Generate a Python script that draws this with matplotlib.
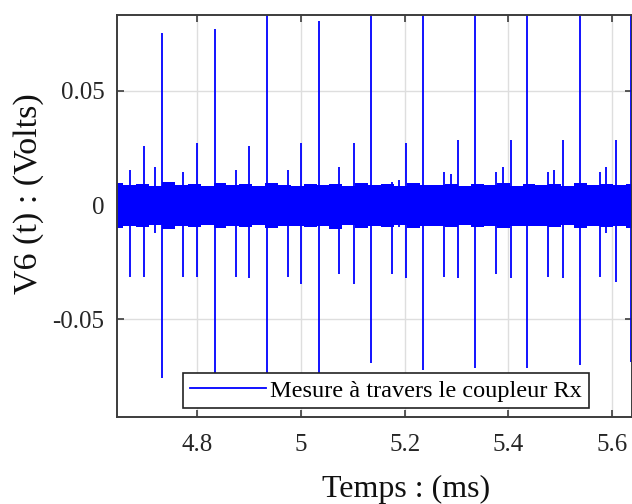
import matplotlib
matplotlib.use("Agg")
import matplotlib.pyplot as plt
import numpy as np

plt.rcParams['font.family'] = ['Liberation Serif', 'DejaVu Serif']

# big spikes (every ~0.1 ms)
big_t = [4.7324, 4.834, 4.9346, 5.0355, 5.1353, 5.2351, 5.3367, 5.4365, 5.5375, 5.637]
big_hi = [0.0751, 0.0771, 0.090, 0.0804, 0.090, 0.090, 0.090, 0.090, 0.0855, 0.090]
big_lo = [-0.0757, -0.080, -0.080, -0.080, -0.0691, -0.0722, -0.0713, -0.0713, -0.0700, -0.0687]

# medium spikes
mid_t = [4.6977, 4.7988, 4.8998, 5.0008, 5.1019, 5.2023, 5.3027, 5.4056, 5.5054, 5.6083]
mid_hi = [0.0259, 0.0273, 0.0259, 0.0273, 0.0273, 0.0273, 0.0284, 0.0284, 0.0284, 0.0284]
mid_lo = [-0.0314, -0.0314, -0.0319, -0.0346, -0.0346, -0.0319, -0.0319, -0.0319, -0.0319, -0.0336]

# small spikes
small_t = [4.6706, 4.7723, 4.874, 4.9743, 5.0739, 5.1749, 5.2752, 5.3761, 5.4770, 5.5766]
small_hi = [0.0153, 0.0144, 0.0153, 0.0153, 0.0165, 0.0100, 0.0144, 0.0144, 0.0144, 0.0144]
small_lo = [-0.0314, -0.0314, -0.0314, -0.0314, -0.0302, -0.0302, -0.0314, -0.0302, -0.0314, -0.0314]

# little bumps just above the noise
bump_t = [4.7180, 5.1896, 5.2887, 5.3890, 5.4874, 5.5883]
bump_hi = [0.0165, 0.0109, 0.0136, 0.0166, 0.0153, 0.0166]
bump_lo = [-0.0123, -0.0095, -0.0095, -0.0100, -0.0095, -0.0123]

# noise band envelope
noise_t = np.linspace(4.645, 5.6386, 41)
noise_hi = [0.0098, 0.0086, 0.0094, 0.0082, 0.0099, 0.0088, 0.0092, 0.0084, 0.0096, 0.0087,
            0.0090, 0.0083, 0.0095, 0.0089, 0.0085, 0.0093, 0.0087, 0.0091, 0.0084, 0.0097,
            0.0088, 0.0092, 0.0083, 0.0095, 0.0089, 0.0086, 0.0094, 0.0082, 0.0091, 0.0087,
            0.0096, 0.0085, 0.0090, 0.0088, 0.0093, 0.0084, 0.0097, 0.0086, 0.0092, 0.0089, 0.0094]
noise_lo = [-0.0102, -0.0090, -0.0098, -0.0087, -0.0104, -0.0092, -0.0096, -0.0089, -0.0101, -0.0091,
            -0.0095, -0.0088, -0.0100, -0.0093, -0.0090, -0.0097, -0.0092, -0.0105, -0.0089, -0.0099,
            -0.0093, -0.0096, -0.0088, -0.0100, -0.0094, -0.0091, -0.0098, -0.0087, -0.0095, -0.0092,
            -0.0101, -0.0090, -0.0094, -0.0093, -0.0097, -0.0089, -0.0102, -0.0091, -0.0096, -0.0093, -0.0099]

legend_label = "Mesure à travers le coupleur Rx"
blue = '#0000ff'

fig = plt.figure(figsize=(6.32, 5.04), dpi=100)
ax = fig.add_axes([0.1851, 0.172, 0.8149, 0.7976])

ax.fill_between(noise_t, noise_lo, noise_hi, step='mid', color=blue, lw=0, zorder=3)

spike_t = big_t + mid_t + small_t + bump_t
spike_hi = big_hi + mid_hi + small_hi + bump_hi
spike_lo = big_lo + mid_lo + small_lo + bump_lo
ax.vlines(spike_t, spike_lo, spike_hi, color=blue, lw=1.3, zorder=3)
line, = ax.plot([], [], color=blue, lw=1.3, label=legend_label)

ax.set_xlim(4.6451, 5.6386)
ax.set_ylim(-0.0929, 0.0830)
ax.set_xticks([4.8, 5.0, 5.2, 5.4, 5.6])
ax.set_xticklabels(['4.8', '5', '5.2', '5.4', '5.6'])
ax.set_yticks([-0.05, 0, 0.05])
ax.set_yticklabels(['-0.05', '0', '0.05'])

ax.grid(True, color='#dedede', lw=1.0, zorder=0)
ax.set_axisbelow(True)
for s in ax.spines.values():
    s.set_color('#3c3c3c')
    s.set_linewidth(1.4)
    s.set_zorder(5)

ax.tick_params(direction='in', length=5, width=1.2, color='#3c3c3c',
               top=True, right=True, labelsize=18, labelcolor='#262626')
ax.tick_params(axis='x', pad=12)
ax.tick_params(axis='y', pad=9)

# axis titles sit off-centre in the original, so place them directly
fig.text(406 / 632, 1 - 489 / 504, "Temps : (ms)", fontsize=23, color='#111111',
         ha='center', va='center')
fig.text(29 / 632, 1 - 194 / 504, "V6 (t) : (Volts)", fontsize=24.5, color='#111111',
         ha='center', va='center', rotation=90)

leg = ax.legend(handles=[line], loc='lower right', bbox_to_anchor=(0.9165, 0.0224),
                borderaxespad=0, fontsize=17.5, handlelength=3.1, handletextpad=0.2,
                borderpad=0.28, fancybox=False, framealpha=1.0, edgecolor='#222222')
leg.get_frame().set_linewidth(1.2)
leg.set_zorder(6)

fig.savefig("out.png", dpi=100)
